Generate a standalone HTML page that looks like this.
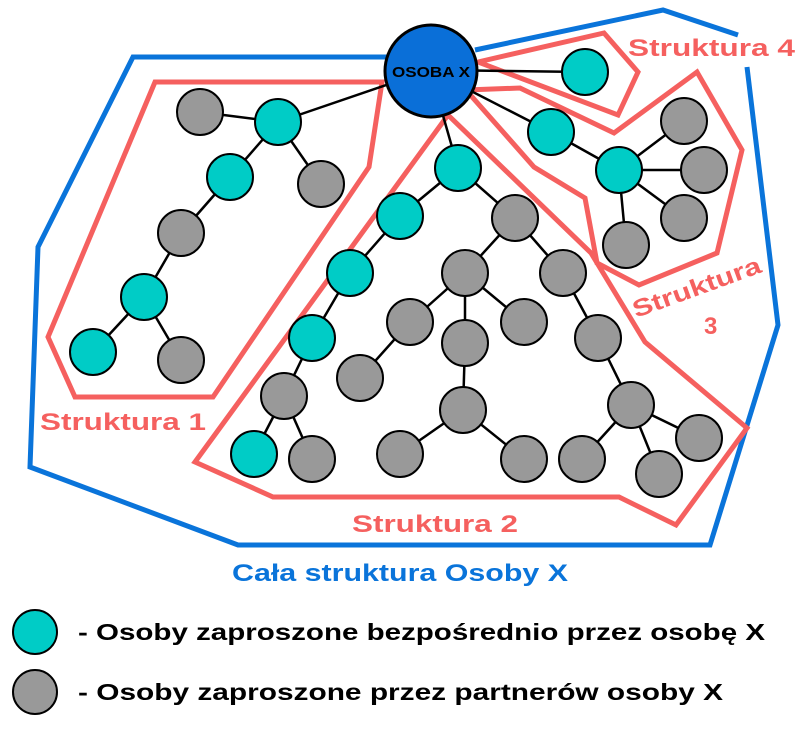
<!DOCTYPE html>
<html><head><meta charset="utf-8"><style>body{margin:0;background:#fff}svg{display:block}</style></head>
<body>
<svg width="800" height="736" viewBox="0 0 800 736" xmlns="http://www.w3.org/2000/svg" font-family="Liberation Sans, sans-serif" font-weight="bold">
<g fill="none" stroke-width="5" stroke-linejoin="miter">
<polyline stroke="#0a74da" points="387,57 133,57 38,247 30,467 238,545 710,545 778,325 747,67"/>
<polyline stroke="#0a74da" points="475,50 663,10 738,35"/>
<g stroke="#f5605f">
<polygon points="155,82 382,82 369,167 213,397 75,397 48,337"/>
<polygon points="448,115 195,462 273,497 619,497 676,525 747,428 645,342 591,253"/>
<polygon points="466,90 520,88 614,133 697,72 742,150 717,253 639,285 597,263 585,198 534,167"/>
<polygon points="478,62 604,33 638,72 618,115"/>
</g>
</g>
<g stroke="#000" stroke-width="2.5">
<line x1="430" y1="70" x2="278" y2="122"/><line x1="200" y1="112" x2="278" y2="122"/><line x1="278" y1="122" x2="230" y2="177"/><line x1="278" y1="122" x2="321" y2="184"/><line x1="230" y1="177" x2="181" y2="233"/><line x1="181" y1="233" x2="144" y2="297"/><line x1="144" y1="297" x2="93" y2="352"/><line x1="144" y1="297" x2="181" y2="360"/>
<line x1="430" y1="70" x2="458" y2="168"/><line x1="458" y1="168" x2="400" y2="216"/><line x1="458" y1="168" x2="515" y2="218"/><line x1="400" y1="216" x2="350" y2="273"/><line x1="350" y1="273" x2="312" y2="338"/><line x1="312" y1="338" x2="284" y2="396"/><line x1="284" y1="396" x2="254" y2="454"/><line x1="284" y1="396" x2="312" y2="459"/><line x1="515" y1="218" x2="465" y2="273"/><line x1="515" y1="218" x2="563" y2="273"/><line x1="465" y1="273" x2="410" y2="322"/><line x1="410" y1="322" x2="360" y2="378"/><line x1="465" y1="273" x2="465" y2="343"/><line x1="465" y1="273" x2="524" y2="322"/><line x1="465" y1="343" x2="463" y2="410"/><line x1="463" y1="410" x2="400" y2="454"/><line x1="463" y1="410" x2="524" y2="459"/><line x1="563" y1="273" x2="598" y2="338"/><line x1="598" y1="338" x2="631" y2="405"/><line x1="631" y1="405" x2="582" y2="459"/><line x1="631" y1="405" x2="659" y2="474"/><line x1="631" y1="405" x2="699" y2="438"/>
<line x1="430" y1="70" x2="585" y2="72"/><line x1="430" y1="70" x2="551" y2="132"/><line x1="551" y1="132" x2="619" y2="170"/><line x1="619" y1="170" x2="684" y2="121"/><line x1="619" y1="170" x2="704" y2="170"/><line x1="619" y1="170" x2="684" y2="218"/><line x1="619" y1="170" x2="626" y2="245"/>
</g>
<g stroke="#000" stroke-width="2">
<g fill="#00ccc6">
<circle cx="278" cy="122" r="23"/><circle cx="230" cy="177" r="23"/><circle cx="144" cy="297" r="23"/><circle cx="93" cy="352" r="23"/>
<circle cx="458" cy="168" r="23"/><circle cx="400" cy="216" r="23"/><circle cx="350" cy="273" r="23"/><circle cx="312" cy="338" r="23"/><circle cx="254" cy="454" r="23"/>
<circle cx="585" cy="72" r="23"/><circle cx="551" cy="132" r="23"/><circle cx="619" cy="170" r="23"/>
<circle cx="35" cy="632" r="22"/>
</g>
<g fill="#999">
<circle cx="200" cy="112" r="23"/><circle cx="321" cy="184" r="23"/><circle cx="181" cy="233" r="23"/><circle cx="181" cy="360" r="23"/>
<circle cx="515" cy="218" r="23"/><circle cx="465" cy="273" r="23"/><circle cx="563" cy="273" r="23"/><circle cx="410" cy="322" r="23"/><circle cx="524" cy="322" r="23"/><circle cx="465" cy="343" r="23"/><circle cx="360" cy="378" r="23"/><circle cx="598" cy="338" r="23"/><circle cx="284" cy="396" r="23"/><circle cx="463" cy="410" r="23"/><circle cx="631" cy="405" r="23"/><circle cx="312" cy="459" r="23"/><circle cx="400" cy="454" r="23"/><circle cx="524" cy="459" r="23"/><circle cx="582" cy="459" r="23"/><circle cx="659" cy="474" r="23"/><circle cx="699" cy="438" r="23"/>
<circle cx="684" cy="121" r="23"/><circle cx="704" cy="170" r="23"/><circle cx="684" cy="218" r="23"/><circle cx="626" cy="245" r="23"/>
<circle cx="35" cy="692" r="22"/>
</g>
<circle cx="431" cy="71" r="46" fill="#0a6fd8" stroke-width="3"/>
</g>
<text x="431" y="77" font-size="15" text-anchor="middle" textLength="78" lengthAdjust="spacingAndGlyphs">OSOBA X</text>
<g fill="#f5605f" font-size="24">
<text x="628" y="56" textLength="167" lengthAdjust="spacingAndGlyphs">Struktura 4</text>
<text x="40" y="430" textLength="166" lengthAdjust="spacingAndGlyphs">Struktura 1</text>
<text x="352" y="532" textLength="166" lengthAdjust="spacingAndGlyphs">Struktura 2</text>
<text x="636" y="318" transform="rotate(-20 636 318)" textLength="135" lengthAdjust="spacingAndGlyphs">Struktura</text>
<text x="704" y="334">3</text>
</g>
<text x="232" y="581" font-size="24" fill="#0a74da" textLength="336" lengthAdjust="spacingAndGlyphs">Cała struktura Osoby X</text>
<text x="78" y="640" font-size="23" fill="#000" textLength="687" lengthAdjust="spacingAndGlyphs">- Osoby zaproszone bezpośrednio przez osobę X</text>
<text x="78" y="700" font-size="23" fill="#000" textLength="645" lengthAdjust="spacingAndGlyphs">- Osoby zaproszone przez partnerów osoby X</text>
</svg>
</body></html>
